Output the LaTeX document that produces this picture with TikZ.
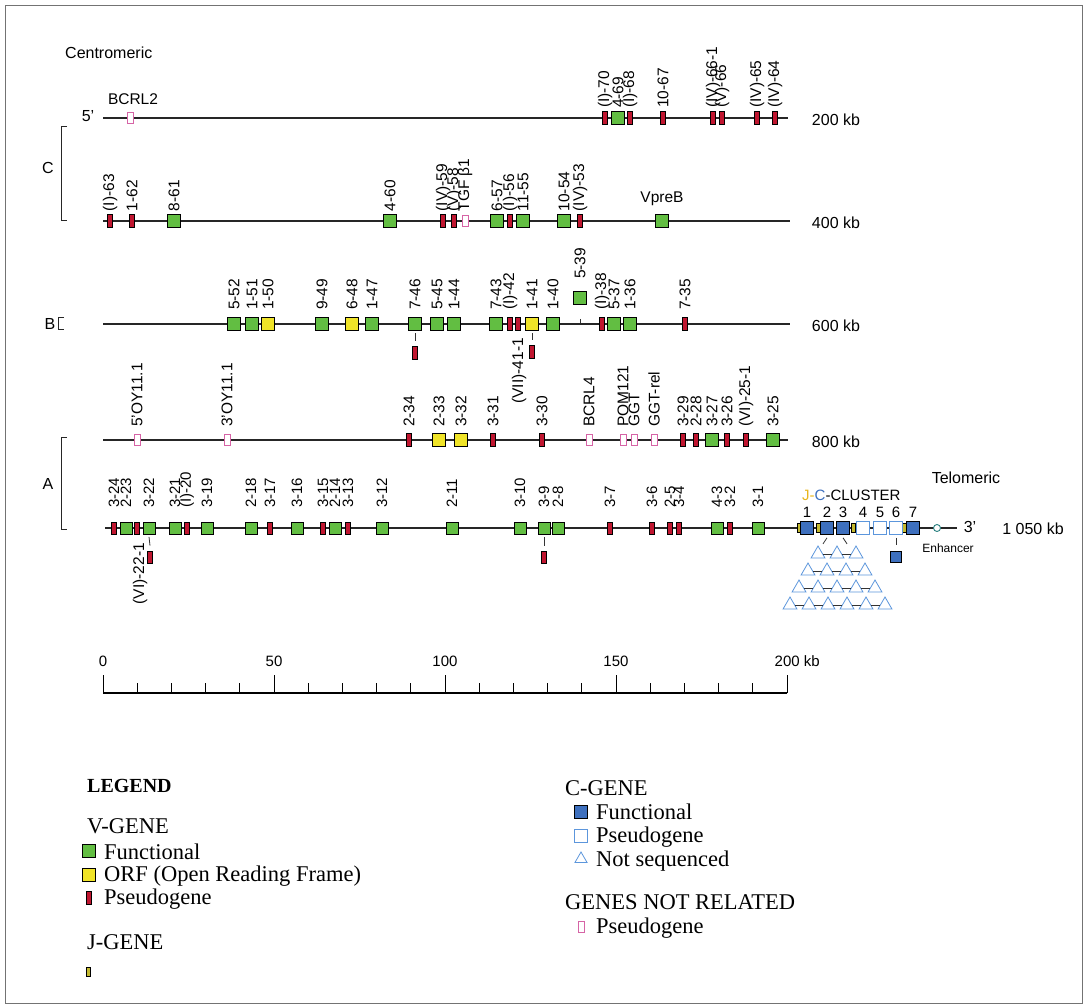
\documentclass[tikz,border=0pt]{standalone}
\usepackage{fontspec}
\setmainfont{Liberation Serif}
\setsansfont{Liberation Sans}
\usetikzlibrary{shapes.geometric}
\definecolor{vgreen}{RGB}{98,190,66}
\definecolor{vyellow}{RGB}{240,228,40}
\definecolor{vred}{RGB}{192,22,48}
\definecolor{npink}{RGB}{214,100,166}
\definecolor{cblue}{RGB}{62,112,190}
\definecolor{lblue}{RGB}{92,150,220}
\definecolor{jolive}{RGB}{196,186,48}
\definecolor{jyel}{RGB}{232,182,30}
\definecolor{enht}{RGB}{40,128,128}
\newcommand\myfs[1]{\fontsize{#1}{#1}\selectfont}
\newcommand\mkg[4]{\node[#1] (#2) at (#3,\rowy) {};\node[vlab] (#2l) at (#3,\rowy-\laboff) {#4};}
\begin{document}
\begin{tikzpicture}[x=1pt,y=-1pt,
  every node/.style={font=\sffamily},
  rowline/.style={line width=1.1pt, draw=black!85},
  gbase/.style={draw=black, line width=0.7pt, inner sep=0pt, rectangle},
  vg/.style={gbase, fill=vgreen, minimum width=13pt, minimum height=13pt},
  orf/.style={gbase, fill=vyellow, minimum width=13pt, minimum height=13pt},
  pg/.style={gbase, fill=vred, minimum width=5pt, minimum height=13pt},
  vgs/.style={vg, minimum width=12pt, minimum height=12pt},
  pgs/.style={pg, minimum width=4.5pt, minimum height=12pt},
  np/.style={gbase, draw=npink, fill=white, minimum width=6pt, minimum height=11pt, line width=0.8pt},
  cf/.style={gbase, fill=cblue, minimum width=13pt, minimum height=13pt},
  cp/.style={gbase, draw=lblue, fill=white, minimum width=13pt, minimum height=13pt, line width=0.8pt},
  ns/.style={regular polygon, regular polygon sides=3, draw=lblue, fill=white, minimum size=16pt, inner sep=0pt, line width=0.8pt},
  jg/.style={gbase, fill=jolive, minimum width=3.5pt, minimum height=9pt, line width=0.5pt},
  vlab/.style={rotate=90, anchor=west, inner sep=0pt, font=\sffamily\myfs{15.5}},
  vlabb/.style={rotate=90, anchor=east, inner sep=0pt, font=\sffamily\myfs{15.5}},
  hlab/.style={font=\sffamily\myfs{15.5}, inner sep=0pt},
  kb/.style={font=\sffamily\myfs{16}, inner sep=0pt},
  leg/.style={font=\rmfamily\myfs{22.5}, anchor=west, inner sep=0pt},
  tickln/.style={line width=0.8pt, draw=black!80},
  brk/.style={line width=1pt, draw=black!85}]
\useasboundingbox (0,0) rectangle (1087,1008);
\node[draw=black!55, line width=0.8pt, minimum width=1077pt, minimum height=998pt, inner sep=0pt] (frame) at (543.5,504) {};

% headings
\node[kb, anchor=west] (centro) at (65,53) {Centromeric};
\node[kb] (telo) at (966,478) {Telomeric};

% brackets
\node[kb] (lC) at (48,168) {C};
\draw[brk] (67,127) -- (61,127) -- (61,221) -- (67,221);
\node[kb] (lB) at (50,324) {B};
\draw[brk] (64,318) -- (58,318) -- (58,330) -- (64,330);
\node[kb] (lA) at (48,484) {A};
\draw[brk] (67,437) -- (61,437) -- (61,529) -- (67,529);

% ---------- row 1 ----------
\coordinate (r1s) at (103,118); \coordinate (r1e) at (788,118);
\draw[rowline] (r1s) -- (r1e);
\node[kb] (p5) at (88,116) {5'};
\node[kb] (kb1) at (836,120) {200 kb};
\def\rowy{118}\def\laboff{10}
\node[np] (bcrl2) at (130,118) {};
\node[hlab] (bcrl2l) at (133,99) {BCRL2};
\mkg{pg}{a70}{605}{(I)-70}
\mkg{vg}{a69}{618}{4-69}
\mkg{pg}{a68}{630}{(I)-68}
\mkg{pg}{a67}{663}{10-67}
\mkg{pg}{a661}{713}{(IV)-66-1}
\mkg{pg}{a66}{722}{(V)-66}
\mkg{pg}{a65}{757}{(IV)-65}
\mkg{pg}{a64}{775}{(IV)-64}

% ---------- row 2 ----------
\coordinate (r2s) at (103,221); \coordinate (r2e) at (790,221);
\draw[rowline] (r2s) -- (r2e);
\node[kb] (kb2) at (836,223) {400 kb};
\def\rowy{221}\def\laboff{9.5}
\mkg{pg}{a63}{110}{(I)-63}
\mkg{pg}{a62}{132}{1-62}
\mkg{vg}{a61}{174}{8-61}
\mkg{vg}{a60}{390}{4-60}
\mkg{pg}{a59}{443}{(IV)-59}
\mkg{pg}{a58}{454}{(V)-58}
\node[np] (tgf) at (465,221) {};
\node[vlab] (tgfl) at (465,211.5) {TGF β1};
\mkg{vg}{a57}{497}{6-57}
\mkg{pg}{a56}{510}{(I)-56}
\mkg{vg}{a55}{523}{11-55}
\mkg{vg}{a54}{564}{10-54}
\mkg{pg}{a53}{580}{(IV)-53}
\node[vg] (vpreb) at (662,221) {};
\node[hlab] (vprebl) at (662,199) {VpreB};

% ---------- row 3 ----------
\coordinate (r3s) at (103,324); \coordinate (r3e) at (790,324);
\draw[rowline] (r3s) -- (r3e);
\node[kb] (kb3) at (836,326) {600 kb};
\def\rowy{324}\def\laboff{14}
\mkg{vg}{a52}{234}{5-52}
\mkg{vg}{a51}{252}{1-51}
\mkg{orf}{a50}{268}{1-50}
\mkg{vg}{a49}{322}{9-49}
\mkg{orf}{a48}{352}{6-48}
\mkg{vg}{a47}{372}{1-47}
\mkg{vg}{a46}{415}{7-46}
\mkg{vg}{a45}{437}{5-45}
\mkg{vg}{a44}{454}{1-44}
\mkg{vg}{a43}{496}{7-43}
\mkg{pg}{a42}{510}{(I)-42}
\node[pg] (a42b) at (518,324) {};
\mkg{orf}{a41}{532}{1-41}
\mkg{vg}{a40}{553}{1-40}
\node[vg] (a39) at (580,298) {};
\node[vlab] (a39l) at (580,279) {5-39};
\draw[tickln] ([yshift=-14pt]a39.south) -- ([yshift=-18pt]a39.south);
\mkg{pg}{a38}{602}{(I)-38}
\mkg{vg}{a37}{614}{5-37}
\mkg{vg}{a36}{630}{1-36}
\mkg{pg}{a35}{685}{7-35}
\node[pg] (a461) at (415,353) {};
\draw[tickln] ([yshift=-2.5pt]a46.south) -- ([yshift=5pt]a461.north);
\node[pg] (a411) at (532,352) {};
\draw[tickln] ([yshift=-2.5pt]a41.south) -- ([yshift=5pt]a411.north);
\node[vlabb] (a411l) at (519,338) {(VII)-41-1};

% ---------- row 4 ----------
\coordinate (r4s) at (103,440); \coordinate (r4e) at (788,440);
\draw[rowline] (r4s) -- (r4e);
\node[kb] (kb4) at (836,442) {800 kb};
\def\rowy{440}\def\laboff{13}
\mkg{np}{oy5}{137}{5'OY11.1}
\mkg{np}{oy3}{227}{3'OY11.1}
\mkg{pg}{a34}{409}{2-34}
\mkg{orf}{a33}{439}{2-33}
\mkg{orf}{a32}{461}{3-32}
\mkg{pg}{a31}{493}{3-31}
\mkg{pg}{a30}{542}{3-30}
\mkg{np}{bcrl4}{589}{BCRL4}
\mkg{np}{pom}{623}{POM121}
\mkg{np}{ggt}{634}{GGT}
\mkg{np}{ggtr}{654}{GGT-rel}
\mkg{pg}{a29}{683}{3-29}
\mkg{pg}{a28}{696}{2-28}
\mkg{vg}{a27}{712}{3-27}
\mkg{pg}{a26}{727}{3-26}
\mkg{pg}{a251}{746}{(VI)-25-1}
\mkg{vg}{a25}{773}{3-25}

% ---------- row 5 ----------
\coordinate (r5s) at (105,528); \coordinate (r5e) at (957,528);
\draw[rowline] (r5s) -- (r5e);
\node[kb] (p3) at (970,527) {3'};
\node[kb] (kb5) at (1033,529) {1 050 kb};
\def\rowy{528}\def\laboff{20}
\tikzset{vlab/.style={rotate=90, anchor=west, inner sep=0pt, font=\sffamily\myfs{15}}}
\mkg{pgs}{a24}{114}{3-24}
\mkg{vgs}{a23}{126}{2-23}
\node[pgs] (a23b) at (137,528) {};
\mkg{vgs}{a22}{149}{3-22}
\mkg{vgs}{a21}{175}{3-21}
\mkg{pgs}{a20}{187}{(I)-20}
\mkg{vgs}{a19}{207}{3-19}
\mkg{vgs}{a18}{251}{2-18}
\mkg{pgs}{a17}{270}{3-17}
\mkg{vgs}{a16}{297}{3-16}
\mkg{pgs}{a15}{323}{3-15}
\mkg{vgs}{a14}{335}{2-14}
\mkg{pgs}{a13}{348}{3-13}
\mkg{vgs}{a12}{382}{3-12}
\mkg{vgs}{a11}{452}{2-11}
\mkg{vgs}{a10}{520}{3-10}
\mkg{vgs}{a9}{544}{3-9}
\mkg{vgs}{a8}{558}{2-8}
\mkg{pgs}{a7}{610}{3-7}
\mkg{pgs}{a6}{652}{3-6}
\mkg{pgs}{a5}{670}{2-5}
\mkg{pgs}{a4}{679}{3-4}
\mkg{vgs}{a3}{717}{4-3}
\mkg{pgs}{a2}{730}{3-2}
\mkg{vgs}{a1}{758}{3-1}
\node[pgs] (a221) at (150,557) {};
\draw[tickln] ([yshift=-2.5pt]a22.south) -- ([yshift=5pt]a221.north);
\node[vlabb] (a221l) at (140,543) {(VI)-22-1};
\node[pgs] (a91) at (544,557) {};
\draw[tickln] ([yshift=-2.5pt]a9.south) -- ([yshift=5pt]a91.north);

% J-C cluster
\node[jg] (j1) at (799,528) {};
\node[jg] (j2) at (818,528) {};
\node[jg] (j4) at (853,528) {};
\node[jg] (j7) at (904,528) {};
\node[cf] (c1) at (807,528) {};
\node[cf] (c2) at (827,528) {};
\node[cf] (c3) at (843,528) {};
\node[cp] (c4) at (863,528) {};
\node[cp] (c5) at (880,528) {};
\node[cp] (c6) at (896,528) {};
\node[cf] (c7) at (913,528) {};
\node[circle, draw=enht, fill=white, line width=0.9pt, minimum size=7pt, inner sep=0pt] (enh) at (937,528) {};
\node[font=\sffamily\myfs{12}, inner sep=0pt] (enhl) at (948,548) {Enhancer};
\foreach \n/\x in {1/807,2/827,3/843,4/863,5/880,6/896,7/913}
  \node[font=\sffamily\myfs{15}, inner sep=0pt] (cn\n) at (\x,512) {\n};
\node[font=\sffamily\myfs{15}, inner sep=0pt, anchor=west] (jcc) at (802,495) {{\color{jyel}J-}{\color{cblue}C}-CLUSTER};
\node[cf, minimum width=11pt, minimum height=11pt] (c61) at (896,557) {};
\draw[tickln] ([yshift=-3pt]c6.south) -- ([yshift=6pt]c61.north);

% not sequenced pyramid
\foreach \i/\x in {1/818,2/837,3/856} \node[ns] (ta\i) at (\x,554) {};
\foreach \i/\x in {1/808,2/827,3/846,4/865} \node[ns] (tb\i) at (\x,571) {};
\foreach \i/\x in {1/799,2/818,3/837,4/856,5/875} \node[ns] (tc\i) at (\x,588) {};
\foreach \i/\x in {1/790,2/809,3/828,4/847,5/866,6/885} \node[ns] (td\i) at (\x,605) {};
\foreach \a/\b in {1/2,2/3} \draw[tickln] (ta\a) -- (ta\b);
\foreach \a/\b in {1/2,2/3,3/4} \draw[tickln] (tb\a) -- (tb\b);
\foreach \a/\b in {1/2,2/3,3/4,4/5} \draw[tickln] (tc\a) -- (tc\b);
\foreach \a/\b in {1/2,2/3,3/4,4/5,5/6} \draw[tickln] (td\a) -- (td\b);
\draw[tickln] ([yshift=-3pt]c2.south) -- ++(-4,6);
\draw[tickln] ([yshift=-3pt]c3.south) -- ++(4,6);

% scale bar
\coordinate (sb0) at (103,693); \coordinate (sb200) at (787,693);
\draw[line width=1.1pt] (sb0) -- (sb200);
\foreach \k in {0,10,...,200} \draw[line width=1pt] (103+\k*3.42,693) -- ++(0,-10);
\foreach \k in {0,50,...,200} \draw[line width=1pt] (103+\k*3.42,693) -- ++(0,-18);
\foreach \k in {0,50,100,150} \node[font=\sffamily\myfs{15}, inner sep=0pt] (sl\k) at (103+\k*3.42,661) {\k};
\node[font=\sffamily\myfs{15}, inner sep=0pt, anchor=west] (sl200) at (774.5,661) {200 kb};

% legend
\node[leg, font=\rmfamily\bfseries\myfs{20}] (legend) at (87,786) {LEGEND};
\node[leg] (vgene) at (87,826) {V-GENE};
\node[vg] (lv1) at (89,851) {};
\node[leg] (lv1t) at (104,852) {Functional};
\node[orf] (lv2) at (89,875) {};
\node[leg] (lv2t) at (104,876) {ORF (Open Reading Frame)};
\node[pg] (lv3) at (89,898) {};
\node[leg] (lv3t) at (104,899) {Pseudogene};
\node[leg] (jgene) at (87,942) {J-GENE};
\node[jg] (lj) at (88,972) {};
\node[leg] (cgene) at (565,788) {C-GENE};
\node[cf] (lc1) at (581,812) {};
\node[leg] (lc1t) at (596,812) {Functional};
\node[cp] (lc2) at (581,836) {};
\node[leg] (lc2t) at (596,837) {Pseudogene};
\node[ns, minimum size=14pt] (lc3) at (581,859) {};
\node[leg] (lc3t) at (596,861) {Not sequenced};
\node[leg] (gnr) at (565,902) {GENES NOT RELATED};
\node[np] (lnp) at (581,927) {};
\node[leg] (lnpt) at (596,928) {Pseudogene};
\end{tikzpicture}
\end{document}
